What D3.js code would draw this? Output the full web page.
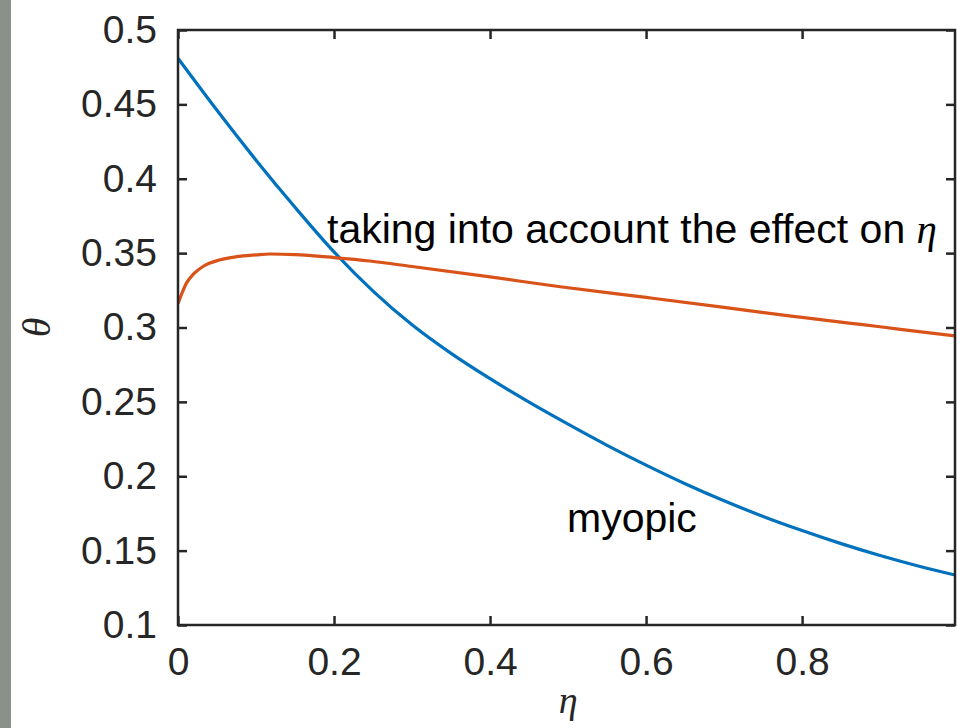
<!DOCTYPE html>
<html>
<head>
<meta charset="utf-8">
<script src="https://cdn.jsdelivr.net/npm/d3@7/dist/d3.min.js"></script>
<style>
  html, body { margin: 0; padding: 0; background: #ffffff; }
  svg { display: block; }
</style>
</head>
<body>
<svg id="chart" width="957" height="728"></svg>
<script>
// ---- data ----
const etaMyopic = [0, 0.05, 0.1, 0.15, 0.2, 0.25, 0.3, 0.35, 0.4, 0.45, 0.5, 0.55, 0.6, 0.65, 0.7, 0.75, 0.8, 0.85, 0.9, 0.95, 0.996];
const thetaMyopic = [0.481, 0.446, 0.4125, 0.3808, 0.3508, 0.3245, 0.3018, 0.2826, 0.2656, 0.2498, 0.2350, 0.2208, 0.2075, 0.195, 0.1835, 0.173, 0.1635, 0.1547, 0.1467, 0.1395, 0.1336];

const etaEffect = [0, 0.005, 0.011, 0.02, 0.032, 0.054, 0.075, 0.1, 0.118, 0.15, 0.2, 0.246, 0.3, 0.4, 0.49, 0.6, 0.7, 0.746, 0.8, 0.86, 0.9, 0.95, 0.996];
const thetaEffect = [0.316, 0.323, 0.330, 0.336, 0.341, 0.3455, 0.3476, 0.3488, 0.3494, 0.349, 0.347, 0.3447, 0.341, 0.334, 0.3274, 0.3202, 0.3135, 0.3103, 0.3068, 0.3030, 0.3005, 0.2972, 0.2943];

const xTicks = [0, 0.2, 0.4, 0.6, 0.8];
const xTickLabels = ["0", "0.2", "0.4", "0.6", "0.8"];
const yTicks = [0.1, 0.15, 0.2, 0.25, 0.3, 0.35, 0.4, 0.45, 0.5];
const yTickLabels = ["0.1", "0.15", "0.2", "0.25", "0.3", "0.35", "0.4", "0.45", "0.5"];

const xDomain = [0, 0.996];
const yDomain = [0.1, 0.5];

// ---- layout ----
const svg = d3.select("#chart");
const W = 957, H = 728;
const L = 178, R = 955, T = 30, B = 625;
const axisColor = "#262626";
const fontSans = "'Liberation Sans', Arial, Helvetica, sans-serif";
const fontSerif = "'Liberation Serif', 'Times New Roman', serif";

svg.append("rect").attr("x", 0).attr("y", 0).attr("width", W).attr("height", H).attr("fill", "#ffffff");
svg.append("rect").attr("x", 0).attr("y", 0).attr("width", 11).attr("height", H).attr("fill", "#8b918a");

const x = d3.scaleLinear().domain(xDomain).range([L, R]);
const y = d3.scaleLinear().domain(yDomain).range([B, T]);

const tickLen = 9;

const gB = svg.append("g").attr("transform", `translate(0,${B})`)
  .call(d3.axisBottom(x).tickValues(xTicks).tickFormat((d, i) => xTickLabels[i]).tickSizeInner(-tickLen).tickSizeOuter(0).tickPadding(22));
const gT = svg.append("g").attr("transform", `translate(0,${T})`)
  .call(d3.axisTop(x).tickValues(xTicks).tickFormat("").tickSizeInner(-tickLen).tickSizeOuter(0));
const gL = svg.append("g").attr("transform", `translate(${L},0)`)
  .call(d3.axisLeft(y).tickValues(yTicks).tickFormat((d, i) => yTickLabels[i]).tickSizeInner(-tickLen).tickSizeOuter(0).tickPadding(21));
const gR = svg.append("g").attr("transform", `translate(${R},0)`)
  .call(d3.axisRight(y).tickValues(yTicks).tickFormat("").tickSizeInner(-tickLen).tickSizeOuter(0));

[gB, gT, gL, gR].forEach(g => {
  g.select(".domain").remove();
  g.selectAll(".tick line").attr("stroke", axisColor).attr("stroke-width", 2.5);
  g.selectAll(".tick text").attr("fill", axisColor).attr("font-family", fontSans).attr("font-size", 39);
});

svg.append("clipPath").attr("id", "clip").append("rect")
  .attr("x", L).attr("y", T).attr("width", R - L).attr("height", B - T);

const line = d3.line().x(d => x(d[0])).y(d => y(d[1])).curve(d3.curveMonotoneX);

const plot = svg.append("g").attr("clip-path", "url(#clip)");
plot.append("path")
  .datum(etaMyopic.map((e, i) => [e, thetaMyopic[i]]))
  .attr("d", line).attr("fill", "none").attr("stroke", "#0072BD").attr("stroke-width", 3.2);
plot.append("path")
  .datum(etaEffect.map((e, i) => [e, thetaEffect[i]]))
  .attr("d", line).attr("fill", "none").attr("stroke", "#D95319").attr("stroke-width", 3.2);

svg.append("rect").attr("x", L).attr("y", T).attr("width", R - L).attr("height", B - T)
  .attr("fill", "none").attr("stroke", axisColor).attr("stroke-width", 2.5);

const t1 = svg.append("text").attr("x", 327).attr("y", 243)
  .attr("font-family", fontSans).attr("font-size", 41).attr("fill", "#000");
t1.append("tspan").text("taking into account the effect on ");
t1.append("tspan").attr("font-family", fontSerif).attr("font-style", "italic").text("η");

svg.append("text").attr("x", 567).attr("y", 532)
  .attr("font-family", fontSans).attr("font-size", 41).attr("fill", "#000").text("myopic");

svg.append("text").attr("x", x(0.5)).attr("y", 713).attr("text-anchor", "middle")
  .attr("font-family", fontSerif).attr("font-style", "italic").attr("font-size", 38).attr("fill", axisColor).text("η");
svg.append("text").attr("transform", `translate(50,${(T + B) / 2}) rotate(-90)`).attr("text-anchor", "middle")
  .attr("font-family", fontSerif).attr("font-style", "italic").attr("font-size", 40).attr("fill", axisColor).text("θ");
</script>
</body>
</html>
